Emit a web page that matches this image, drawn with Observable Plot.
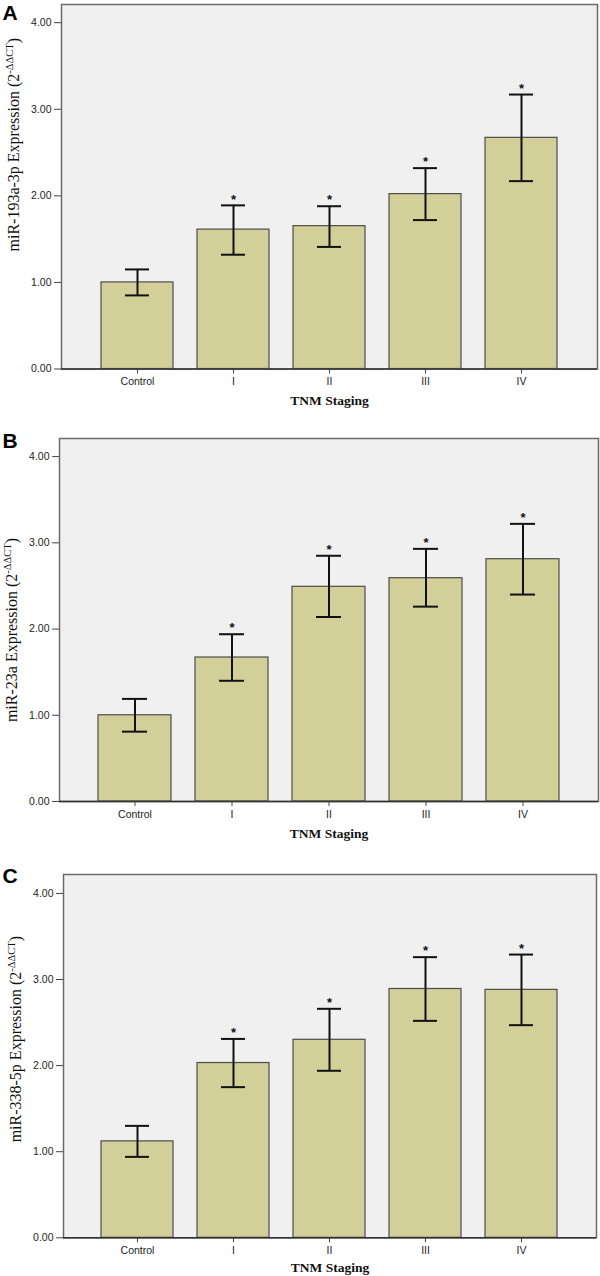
<!DOCTYPE html>
<html>
<head>
<meta charset="utf-8">
<script src="https://cdn.jsdelivr.net/npm/d3@7"></script>
<script src="https://cdn.jsdelivr.net/npm/@observablehq/plot@0.6"></script>
<style>
  html, body { margin: 0; padding: 0; background: #ffffff; }
  #wrap { position: relative; width: 600px; height: 1276px; overflow: hidden; background: #ffffff; }
  .panel { position: absolute; left: 0; }
</style>
</head>
<body>
<div id="wrap"></div>
<script>
// ---- data ----
const stages = ["Control", "I", "II", "III", "IV"];

// Panel A: miR-193a-3p
const meanA = [1.00, 1.61, 1.65, 2.02, 2.67];
const lowA  = [0.85, 1.32, 1.41, 1.72, 2.17];
const highA = [1.15, 1.89, 1.88, 2.32, 3.17];

// Panel B: miR-23a
const meanB = [1.00, 1.67, 2.49, 2.59, 2.81];
const lowB  = [0.81, 1.40, 2.14, 2.26, 2.40];
const highB = [1.19, 1.94, 2.85, 2.93, 3.22];

// Panel C: miR-338-5p
const meanC = [1.12, 2.03, 2.30, 2.89, 2.88];
const lowC  = [0.94, 1.75, 1.94, 2.52, 2.47];
const highC = [1.30, 2.31, 2.66, 3.26, 3.29];

const significant = [false, true, true, true, true];
const yTicks = [0, 1, 2, 3, 4];

const panels = [
  {letter: "A", name: "miR-193a-3p", mean: meanA, low: lowA, high: highA,
   top: 0, height: 420, mt: 4, mb: 51.5, ml: 61, mr: 3, ymax: 4.21, labelDy: -42, letterDy: 1, xTitleDy: 32},
  {letter: "B", name: "miR-23a", mean: meanB, low: lowB, high: highB,
   top: 420, height: 430, mt: 18, mb: 49, ml: 59, mr: 2, ymax: 4.21, labelDy: 10, letterDy: -5, xTitleDy: 32},
  {letter: "C", name: "miR-338-5p", mean: meanC, low: lowC, high: highC,
   top: 850, height: 426, mt: 24, mb: 38.7, ml: 63, mr: 4, ymax: 4.22, labelDy: -17, letterDy: -6, xTitleDy: 30}
];

const wrap = document.getElementById("wrap");

for (const p of panels) {
  const rows = stages.map((s, i) => ({stage: s, mean: p.mean[i], lo: p.low[i], hi: p.high[i], sig: significant[i]}));
  const labelText = p.name + " Expression (2";

  const chart = Plot.plot({
    width: 600,
    height: p.height,
    marginTop: p.mt,
    marginBottom: p.mb,
    marginLeft: p.ml,
    marginRight: p.mr,
    style: {fontFamily: "'Liberation Sans', Arial, sans-serif", background: "transparent", color: "#222"},
    x: {domain: stages, paddingInner: 0.245, paddingOuter: 0.394, align: 0.5, label: null},
    y: {domain: [0, p.ymax], label: null},
    marks: [
      Plot.frame({fill: "#f0f0f0", stroke: "none"}),
      Plot.barY(rows, {x: "stage", y: "mean", fill: "#d3cf98", stroke: "#4d4d4d", strokeWidth: 1.2}),
      Plot.ruleX(rows, {x: "stage", y1: "lo", y2: "hi", stroke: "#111", strokeWidth: 2}),
      Plot.tickY(rows, {x: "stage", y: "lo", stroke: "#111", strokeWidth: 2, inset: 24}),
      Plot.tickY(rows, {x: "stage", y: "hi", stroke: "#111", strokeWidth: 2, inset: 24}),
      Plot.text(rows.filter(d => d.sig), {x: "stage", y: "hi", text: () => "*", dy: -6, fontSize: 13, fontWeight: "bold", fill: "#111"}),
      Plot.frame({stroke: "#6b6b6b", strokeWidth: 1.5}),
      Plot.ruleY([0], {stroke: "#333", strokeWidth: 1.6}),
      Plot.axisY({ticks: yTicks, tickFormat: d3.format(".2f"), tickSize: 7, tickPadding: 3, fontSize: 10.5, label: null, stroke: "#444"}),
      Plot.axisX({tickSize: 5, tickPadding: 4, fontSize: 10.5, label: null, stroke: "#444"}),
      Plot.text(["TNM Staging"], {text: d => d, frameAnchor: "bottom", textAnchor: "middle", lineAnchor: "middle", dy: p.xTitleDy, fontFamily: "'Liberation Serif', 'Times New Roman', serif", fontWeight: "bold", fontSize: 13.5, fill: "#111"}),
      Plot.text([labelText], {text: d => d, frameAnchor: "left", textAnchor: "middle", lineAnchor: "middle", rotate: -90, dx: -48, dy: p.labelDy, fontFamily: "'Liberation Serif', 'Times New Roman', serif", fontSize: 16, fill: "#111"}),
      Plot.text([p.letter], {text: d => d, frameAnchor: "top-left", textAnchor: "start", lineAnchor: "top", dx: 2 - p.ml, dy: p.letterDy, fontSize: 21, fontWeight: "bold", fill: "#000"})
    ]
  });

  // add superscript to the y label
  d3.select(chart).selectAll("text").each(function () {
    if (this.textContent === labelText) {
      const t = d3.select(this);
      t.text(null);
      t.append("tspan").text(labelText);
      t.append("tspan").attr("font-size", 10.5).attr("dy", -6).text("-ΔΔCT");
      t.append("tspan").attr("dy", 6).text(")");
    }
  });

  const div = document.createElement("div");
  div.className = "panel";
  div.style.top = p.top + "px";
  div.appendChild(chart);
  wrap.appendChild(div);
}
</script>
</body>
</html>
